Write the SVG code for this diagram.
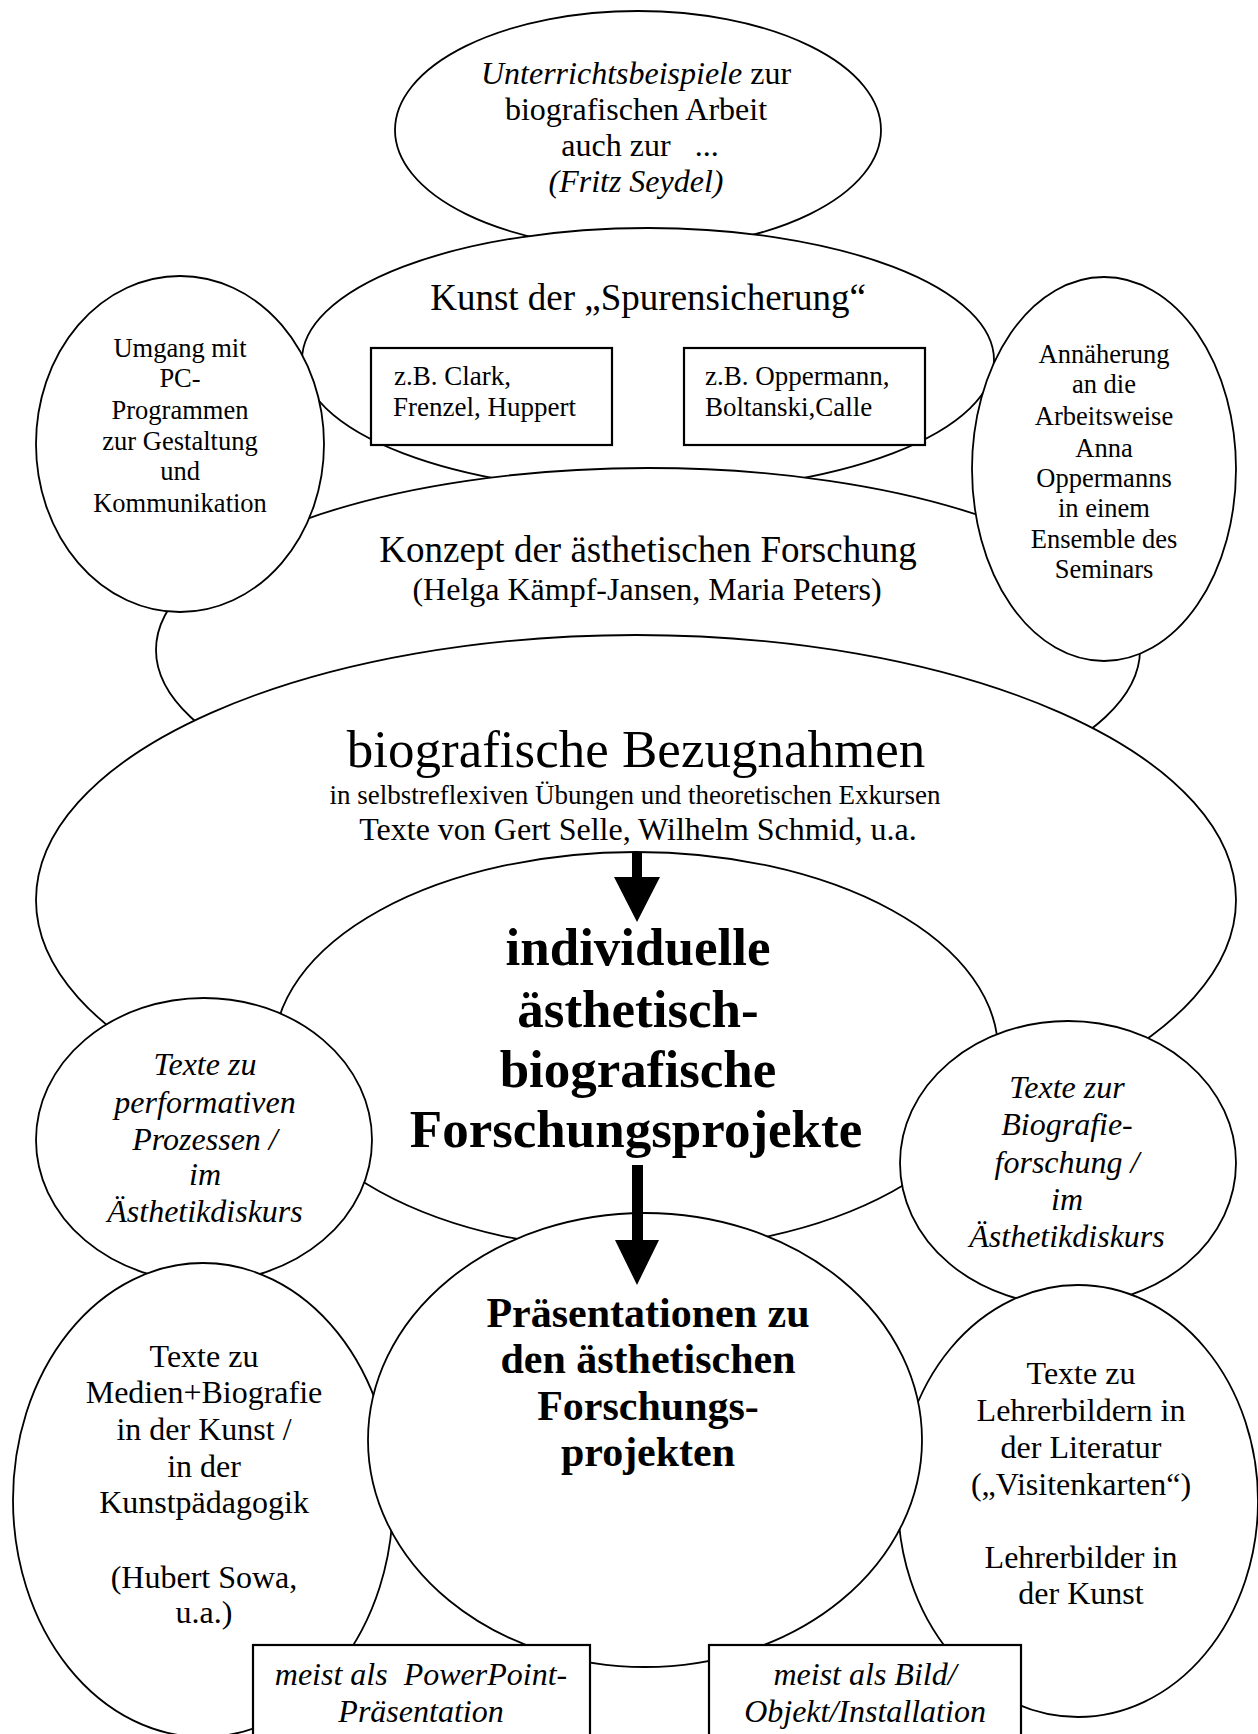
<svg xmlns="http://www.w3.org/2000/svg" width="1258" height="1734" viewBox="0 0 1258 1734">
<style>
.sh{fill:#fff;stroke:#000;stroke-width:1.8}
.bx{fill:#fff;stroke:#000;stroke-width:2.2}
text{font-family:"Liberation Serif","Times New Roman",serif;fill:#000}
.c{text-anchor:middle}
.i{font-style:italic}
.b{font-weight:bold}
.ar{fill:#000;stroke:none}
</style>
<rect width="1258" height="1734" fill="#fff"/>

<g id="unterrichtsbeispiele">
<ellipse class="sh" cx="638" cy="130" rx="243" ry="119"/>
<text class="c" font-size="32" x="636" y="84"><tspan class="i">Unterrichtsbeispiele</tspan> zur</text>
<text class="c" font-size="32" x="636" y="120">biografischen Arbeit</text>
<text class="c" font-size="32" x="640" y="156" xml:space="preserve">auch zur   ...</text>
<text class="c i" font-size="32" x="636" y="192">(Fritz Seydel)</text>
</g>

<g id="spurensicherung">
<ellipse class="sh" cx="648" cy="360" rx="346" ry="132"/>
<text class="c" font-size="37" x="648" y="310">Kunst der „Spurensicherung“</text>
</g>

<g id="box-clark">
<rect class="bx" x="371" y="348" width="241" height="97"/>
<text font-size="27" x="394" y="385">z.B. Clark,</text>
<text font-size="27" x="393" y="416">Frenzel, Huppert</text>
</g>

<g id="box-oppermann">
<rect class="bx" x="684" y="348" width="241" height="97"/>
<text font-size="27" x="705" y="385">z.B. Oppermann,</text>
<text font-size="27" x="705" y="416">Boltanski,Calle</text>
</g>

<g id="konzept">
<ellipse class="sh" cx="648" cy="650" rx="492" ry="182"/>
<text class="c" font-size="37" x="648" y="562">Konzept der ästhetischen Forschung</text>
<text class="c" font-size="32" x="647" y="600">(Helga Kämpf-Jansen, Maria Peters)</text>
</g>

<g id="umgang-pc">
<ellipse class="sh" cx="180" cy="444" rx="144" ry="168"/>
<text class="c" font-size="26.5" x="180" y="357">Umgang mit</text>
<text class="c" font-size="26.5" x="180" y="387">PC-</text>
<text class="c" font-size="26.5" x="180" y="419">Programmen</text>
<text class="c" font-size="26.5" x="180" y="450">zur Gestaltung</text>
<text class="c" font-size="26.5" x="180" y="480">und</text>
<text class="c" font-size="26.5" x="180" y="512">Kommunikation</text>
</g>

<g id="annaeherung">
<ellipse class="sh" cx="1104" cy="469" rx="132" ry="192"/>
<text class="c" font-size="26.5" x="1104" y="363">Annäherung</text>
<text class="c" font-size="26.5" x="1104" y="393">an die</text>
<text class="c" font-size="26.5" x="1104" y="425">Arbeitsweise</text>
<text class="c" font-size="26.5" x="1104" y="457">Anna</text>
<text class="c" font-size="26.5" x="1104" y="487">Oppermanns</text>
<text class="c" font-size="26.5" x="1104" y="517">in einem</text>
<text class="c" font-size="26.5" x="1104" y="548">Ensemble des</text>
<text class="c" font-size="26.5" x="1104" y="578">Seminars</text>
</g>

<g id="bezugnahmen">
<ellipse class="sh" cx="636" cy="900" rx="600" ry="265"/>
<text class="c" font-size="53" x="636" y="767">biografische Bezugnahmen</text>
<text class="c" font-size="27" x="635" y="804">in selbstreflexiven Übungen und theoretischen Exkursen</text>
<text class="c" font-size="32" x="638" y="840">Texte von Gert Selle, Wilhelm Schmid, u.a.</text>
</g>

<g id="forschungsprojekte">
<ellipse class="sh" cx="636" cy="1051" rx="362" ry="199"/>
<text class="c b" font-size="53" x="638" y="965">individuelle</text>
<text class="c b" font-size="53" x="638" y="1027">ästhetisch-</text>
<text class="c b" font-size="53" x="638" y="1087">biografische</text>
<text class="c b" font-size="53" x="636" y="1147">Forschungsprojekte</text>
</g>

<g id="texte-performativ">
<ellipse class="sh" cx="204" cy="1140" rx="168" ry="142"/>
<text class="c i" font-size="32" x="205" y="1075">Texte zu</text>
<text class="c i" font-size="32" x="205" y="1113">performativen</text>
<text class="c i" font-size="32" x="205" y="1150">Prozessen /</text>
<text class="c i" font-size="32" x="205" y="1185">im</text>
<text class="c i" font-size="32" x="205" y="1222">Ästhetikdiskurs</text>
</g>

<g id="texte-biografieforschung">
<ellipse class="sh" cx="1068" cy="1163" rx="168" ry="142"/>
<text class="c i" font-size="32" x="1067" y="1098">Texte zur</text>
<text class="c i" font-size="32" x="1067" y="1135">Biografie-</text>
<text class="c i" font-size="32" x="1067" y="1173">forschung /</text>
<text class="c i" font-size="32" x="1067" y="1210">im</text>
<text class="c i" font-size="32" x="1067" y="1247">Ästhetikdiskurs</text>
</g>

<g id="texte-medien">
<ellipse class="sh" cx="203" cy="1500" rx="190" ry="237"/>
<text class="c" font-size="32" x="204" y="1367">Texte zu</text>
<text class="c" font-size="32" x="204" y="1403">Medien+Biografie</text>
<text class="c" font-size="32" x="204" y="1440">in der Kunst /</text>
<text class="c" font-size="32" x="204" y="1477">in der</text>
<text class="c" font-size="32" x="204" y="1513">Kunstpädagogik</text>
<text class="c" font-size="32" x="204" y="1588">(Hubert Sowa,</text>
<text class="c" font-size="32" x="204" y="1623">u.a.)</text>
</g>

<g id="texte-lehrerbilder">
<ellipse class="sh" cx="1078" cy="1501" rx="180" ry="216"/>
<text class="c" font-size="32" x="1081" y="1384">Texte zu</text>
<text class="c" font-size="32" x="1081" y="1421">Lehrerbildern in</text>
<text class="c" font-size="32" x="1081" y="1458">der Literatur</text>
<text class="c" font-size="32" x="1081" y="1495">(„Visitenkarten“)</text>
<text class="c" font-size="32" x="1081" y="1568">Lehrerbilder in</text>
<text class="c" font-size="32" x="1081" y="1604">der Kunst</text>
</g>

<g id="praesentationen">
<ellipse class="sh" cx="645" cy="1440" rx="277" ry="227"/>
<text class="c b" font-size="42" x="648" y="1327">Präsentationen zu</text>
<text class="c b" font-size="42" x="648" y="1373">den ästhetischen</text>
<text class="c b" font-size="42" x="648" y="1420">Forschungs-</text>
<text class="c b" font-size="42" x="648" y="1466">projekten</text>
</g>

<g id="box-powerpoint">
<rect class="bx" x="253" y="1645" width="337" height="100"/>
<text class="c i" font-size="32" x="421" y="1685" xml:space="preserve">meist als  PowerPoint-</text>
<text class="c i" font-size="32" x="421" y="1722">Präsentation</text>
</g>

<g id="box-bild">
<rect class="bx" x="709" y="1645" width="312" height="100"/>
<text class="c i" font-size="32" x="865" y="1685">meist als Bild/</text>
<text class="c i" font-size="32" x="865" y="1722">Objekt/Installation</text>
</g>

<g id="connectors">
<path class="ar" d="M632,852 H642 V877 H660 L637,922 L614,877 H632 Z"/>
<path class="ar" d="M632,1165 H643 V1240 H659 L637,1285 L615,1240 H632 Z"/>
</g>
</svg>
